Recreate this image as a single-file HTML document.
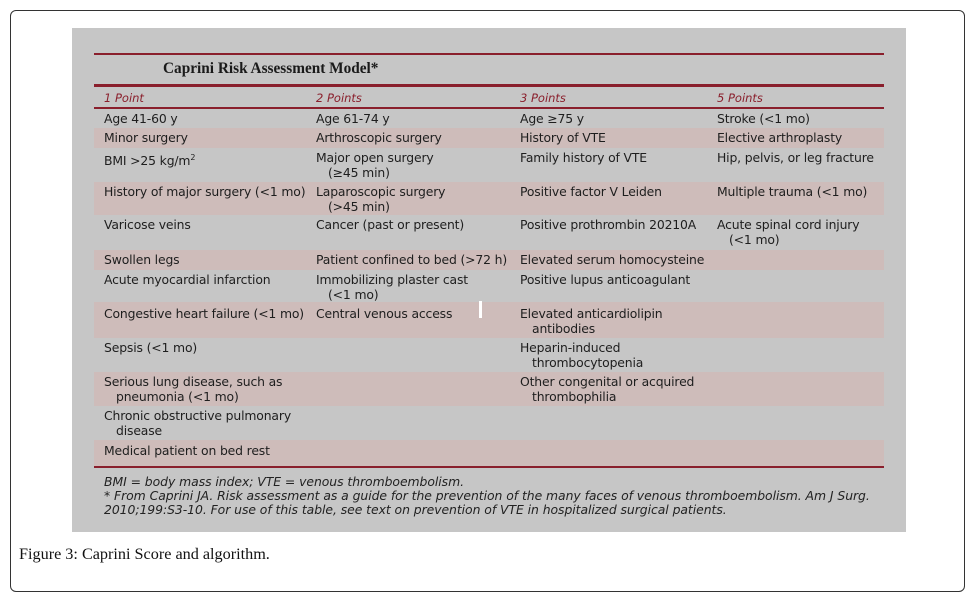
<!DOCTYPE html>
<html><head><style>
body{margin:0;width:974px;height:598px;background:#fff;position:relative;overflow:hidden;font-family:"DejaVu Sans","Liberation Sans",sans-serif}
.frame{position:absolute;left:10px;top:10px;width:955px;height:582px;border:1.2px solid #333;border-radius:6px;box-sizing:border-box}
.panel{position:absolute;left:72px;top:28px;width:834px;height:504px;background:#c6c6c6}
.line{position:absolute;left:94px;width:790px;background:#8a1f2c}
.row{position:absolute;left:94px;width:790px}
.sh{background:#cebcba}
.c{position:absolute;top:2px;font-size:12.4px;line-height:15px;color:#1e1e1e;white-space:nowrap;letter-spacing:-0.15px}
.c1{left:10px}.c2{left:222px}.c3{left:426px}.c4{left:623px}
.ind{padding-left:12px}
.hd{position:absolute;top:91px;font-size:11.5px;font-style:italic;color:#8a1f2c}
.title{position:absolute;left:163px;top:60px;font-family:"Liberation Serif",serif;font-weight:bold;font-size:15.3px;color:#1a1a1a}
.fn{position:absolute;left:104px;font-size:12.4px;font-style:italic;color:#222;white-space:nowrap;letter-spacing:-0.05px}
.cap{position:absolute;left:19px;top:545px;font-family:"Liberation Serif",serif;font-size:16.2px;color:#111}
</style></head><body>
<div class="frame"></div>
<div class="panel"></div>
<div class="line" style="top:53px;height:2px"></div>
<div class="title">Caprini Risk Assessment Model*</div>
<div class="line" style="top:84px;height:3px"></div>
<div class="hd" style="left:104px">1 Point</div>
<div class="hd" style="left:316px">2 Points</div>
<div class="hd" style="left:520px">3 Points</div>
<div class="hd" style="left:717px">5 Points</div>
<div class="line" style="top:107px;height:2px"></div>

<div class="row" style="top:109px;height:19px"><div class="c c1">Age 41-60 y</div><div class="c c2">Age 61-74 y</div><div class="c c3">Age ≥75 y</div><div class="c c4">Stroke (&lt;1 mo)</div></div>
<div class="row sh" style="top:128px;height:20px"><div class="c c1">Minor surgery</div><div class="c c2">Arthroscopic surgery</div><div class="c c3">History of VTE</div><div class="c c4">Elective arthroplasty</div></div>
<div class="row" style="top:148px;height:34px"><div class="c c1">BMI &gt;25 kg/m<sup style="font-size:8px">2</sup></div><div class="c c2">Major open surgery<br><span class="ind">(≥45 min)</span></div><div class="c c3">Family history of VTE</div><div class="c c4">Hip, pelvis, or leg fracture</div></div>
<div class="row sh" style="top:182px;height:33px"><div class="c c1">History of major surgery (&lt;1 mo)</div><div class="c c2">Laparoscopic surgery<br><span class="ind">(&gt;45 min)</span></div><div class="c c3">Positive factor V Leiden</div><div class="c c4">Multiple trauma (&lt;1 mo)</div></div>
<div class="row" style="top:215px;height:35px"><div class="c c1">Varicose veins</div><div class="c c2">Cancer (past or present)</div><div class="c c3">Positive prothrombin 20210A</div><div class="c c4">Acute spinal cord injury<br><span class="ind">(&lt;1 mo)</span></div></div>
<div class="row sh" style="top:250px;height:20px"><div class="c c1">Swollen legs</div><div class="c c2">Patient confined to bed (&gt;72 h)</div><div class="c c3">Elevated serum homocysteine</div></div>
<div class="row" style="top:270px;height:32px"><div class="c c1">Acute myocardial infarction</div><div class="c c2">Immobilizing plaster cast<br><span class="ind">(&lt;1 mo)</span></div><div class="c c3">Positive lupus anticoagulant</div></div>
<div class="row sh" style="top:302px;height:36px"><div class="c c1" style="top:4px">Congestive heart failure (&lt;1 mo)</div><div class="c c2" style="top:4px">Central venous access</div><div class="c c3" style="top:4px">Elevated anticardiolipin<br><span class="ind">antibodies</span></div></div>
<div class="row" style="top:338px;height:34px"><div class="c c1">Sepsis (&lt;1 mo)</div><div class="c c3">Heparin-induced<br><span class="ind">thrombocytopenia</span></div></div>
<div class="row sh" style="top:372px;height:34px"><div class="c c1">Serious lung disease, such as<br><span class="ind">pneumonia (&lt;1 mo)</span></div><div class="c c3">Other congenital or acquired<br><span class="ind">thrombophilia</span></div></div>
<div class="row" style="top:406px;height:34px"><div class="c c1">Chronic obstructive pulmonary<br><span class="ind">disease</span></div></div>
<div class="row sh" style="top:440px;height:26px"><div class="c c1" style="top:3px">Medical patient on bed rest</div></div>
<div class="line" style="top:466px;height:2px"></div>
<div style="position:absolute;left:479px;top:301px;width:3px;height:17px;background:#fff"></div>
<div class="fn" style="top:474px">BMI = body mass index; VTE = venous thromboembolism.</div>
<div class="fn" style="top:488px">* From Caprini JA. Risk assessment as a guide for the prevention of the many faces of venous thromboembolism. Am J Surg.</div>
<div class="fn" style="top:502px">2010;199:S3-10. For use of this table, see text on prevention of VTE in hospitalized surgical patients.</div>
<div class="cap">Figure 3: Caprini Score and algorithm.</div>
</body></html>
